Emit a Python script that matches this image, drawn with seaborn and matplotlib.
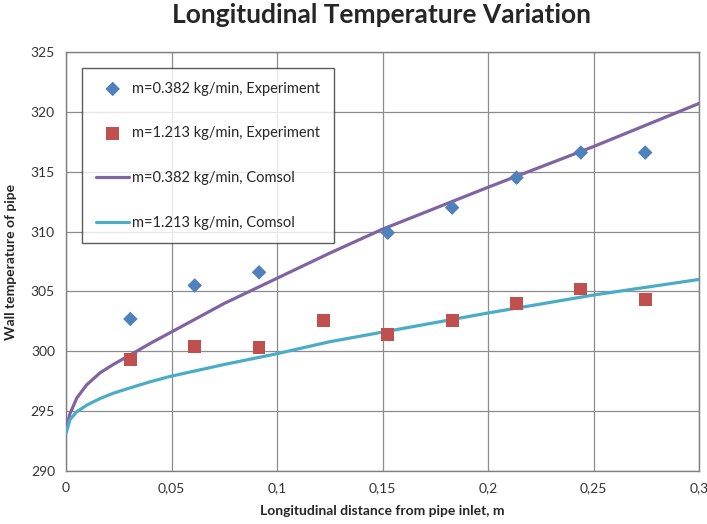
import numpy as np
import pandas as pd
import matplotlib
matplotlib.use("Agg")
import matplotlib.pyplot as plt
import seaborn as sns

sns.set_theme(style="white")
plt.rcParams["font.family"] = ["Lato", "DejaVu Sans"]

# ── Data ────────────────────────────────────────────────────────────────
x_exp = [0.0305, 0.061, 0.0915, 0.122, 0.1525, 0.183, 0.2135, 0.244, 0.2745]
t_exp_low = [302.7, 305.5, 306.6, np.nan, 309.9, 312.0, 314.5, 316.6, 316.6]   # m=0.382
t_exp_high = [299.3, 300.4, 300.3, 302.6, 301.4, 302.6, 304.0, 305.2, 304.3]  # m=1.213

x_sim = [0.0, 0.0019, 0.0051, 0.0098, 0.0161, 0.0224, 0.0305, 0.0398, 0.0493,
         0.075, 0.1, 0.125, 0.15, 0.2, 0.25, 0.3]
t_sim_low = [293.6, 294.8, 296.1, 297.2, 298.2, 298.9, 299.7, 300.65, 301.55,
             304.0, 306.1, 308.2, 310.2, 313.7, 317.1, 320.7]
t_sim_high = [293.15, 294.3, 294.95, 295.5, 296.05, 296.5, 296.95, 297.45, 297.9,
              298.9, 299.8, 300.8, 301.6, 303.2, 304.7, 306.0]

lbl_exp_low = "m=0.382 kg/min, Experiment"
lbl_exp_high = "m=1.213 kg/min, Experiment"
lbl_sim_low = "m=0.382 kg/min, Comsol"
lbl_sim_high = "m=1.213 kg/min, Comsol"

xticks = [0, 0.05, 0.1, 0.15, 0.2, 0.25, 0.3]
xtick_labels = ["0", "0,05", "0,1", "0,15", "0,2", "0,25", "0,3"]
yticks = [290, 295, 300, 305, 310, 315, 320, 325]

exp_df = pd.DataFrame({"x": x_exp, "low": t_exp_low, "high": t_exp_high})
sim_df = pd.DataFrame({"x": x_sim, "low": t_sim_low, "high": t_sim_high})

fig = plt.figure(figsize=(7.07, 5.24), dpi=100)
ax = fig.add_axes([0.0934, 0.1011, 0.8953, 0.7997])

sns.scatterplot(data=exp_df, x="x", y="low", ax=ax, marker="D", s=55,
                color="#4F81BD", edgecolor="none", label=lbl_exp_low, zorder=4)
sns.scatterplot(data=exp_df, x="x", y="high", ax=ax, marker="s", s=85,
                color="#C0504D", edgecolor="none", label=lbl_exp_high, zorder=4)
sns.lineplot(data=sim_df, x="x", y="low", ax=ax, color="#8064A2", lw=2.3,
             label=lbl_sim_low, zorder=3)
sns.lineplot(data=sim_df, x="x", y="high", ax=ax, color="#4BACC6", lw=2.3,
             label=lbl_sim_high, zorder=3)

ax.set_xlim(0, 0.3)
ax.set_ylim(290, 325)
ax.set_xticks(xticks)
ax.set_xticklabels(xtick_labels)
ax.set_yticks(yticks)
ax.tick_params(labelsize=10, colors="#333333", length=0, pad=8)
ax.grid(True, color="#8c8c8c", lw=0.9)
ax.set_axisbelow(True)
for sp in ax.spines.values():
    sp.set_color("#7f7f7f")
    sp.set_linewidth(1.0)

ax.set_xlabel("Longitudinal distance from pipe inlet, m", fontsize=10,
              fontweight="bold", labelpad=8)
ax.set_ylabel("Wall temperature of pipe", fontsize=10, fontweight="bold",
              labelpad=10)
fig.suptitle("Longitudinal Temperature Variation", fontsize=19,
             fontweight="bold", x=0.54, y=0.995)

leg = ax.legend(loc="upper left", bbox_to_anchor=(0.0253, 0.962), fontsize=10.5,
                labelspacing=2.1, borderpad=0.95, handlelength=2.3,
                handletextpad=0.2, borderaxespad=0, frameon=True, fancybox=False)
leg.get_frame().set_edgecolor("#333333")
leg.get_frame().set_linewidth(1.0)

fig.savefig("out.png", dpi=100)
